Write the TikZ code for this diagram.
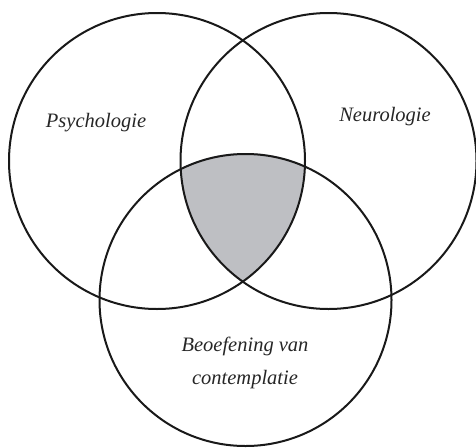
\documentclass[tikz,border=0pt]{standalone}
\usepackage{fontspec}
\setmainfont{Liberation Serif}
\definecolor{venngray}{RGB}{190,191,195}
\tikzset{ring/.style={draw=black!90,line width=2pt},
  lbl/.style={font=\itshape\fontsize{20.5}{33}\selectfont,text=black!85,align=center}}
\begin{document}
\begin{tikzpicture}[x=1pt,y=-1pt]
\useasboundingbox (0,0) rectangle (476,447);
\coordinate (cl) at (157,161);
\coordinate (cr) at (328.5,161);
\coordinate (cb) at (245.5,300);
\begin{scope}
\clip (cl) circle (148);
\clip (cr) circle (148);
\fill[venngray] (cb) circle (147);
\end{scope}
\draw[ring] (cl) circle (148);
\draw[ring] (cr) circle (148);
\draw[ring] (cb) circle (146);
\node[lbl] (psy) at (96,123) {Psychologie};
\node[lbl] (neu) at (385,117) {Neurologie};
\node[lbl] (beo) at (245,363) {Beoefening van\\contemplatie};
\end{tikzpicture}
\end{document}
